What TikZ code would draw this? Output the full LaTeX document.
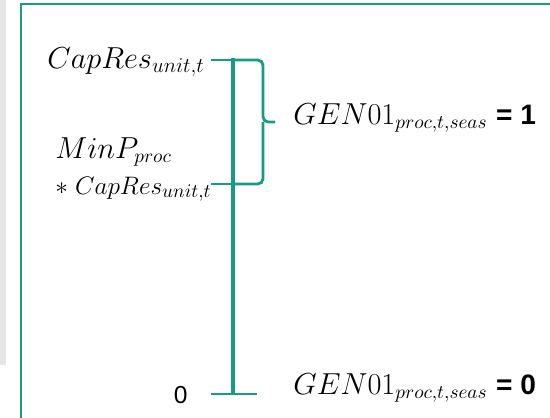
\documentclass[tikz,border=0pt]{standalone}
\usepackage{fontspec}
\setsansfont{Liberation Sans}
\usetikzlibrary{positioning}
\definecolor{teal}{RGB}{22,155,135}
\tikzset{
  lvl/.style={draw=teal,line width=1.6pt},
  lbl/.style={inner sep=0pt,font=\fontsize{17}{20}\selectfont},
}
\begin{document}
\begin{tikzpicture}[x=0.02cm,y=-0.02cm]
	\useasboundingbox (0,0) rectangle (550,417);
	\fill[gray!20] (0,0) rectangle (6,365);
	\draw[teal,line width=1pt] (21,430) -- (21,4) -- (560,4);
	% axis
	\coordinate (top) at (233,60);
	\coordinate (mid) at (233,184);
	\coordinate (bot) at (233,394);
	\draw[teal,line width=2.4pt] (233,58) -- (bot);
	\draw[lvl] (211,60) -- (top);
	\draw[lvl] (211,184) -- (mid);
	\draw[lvl] (211,394) -- (257,394);
	% bracket
	\draw[lvl,rounded corners=3pt] (top) -- (263,60) -- (263,122) -- (275,122);
	\draw[lvl,rounded corners=3pt] (mid) -- (263,184) -- (263,122);
	% labels
	\node[lbl,anchor=base east] (capres) at (205,68) {$CapRes_{unit,t}$};
	\node[lbl,anchor=base west,font=\fontsize{16}{19}\selectfont] (minp) at (55,158) {$MinP_{proc}$};
	\begin{scope}
		\clip (0,170) rectangle (214,205);
		\node[lbl,anchor=base west,font=\fontsize{15}{18}\selectfont] (minp2) at (55,194) {$*\;CapRes_{unit,t}$};
	\end{scope}
	\node[lbl,anchor=base west,font=\fontsize{16}{19}\selectfont] (gen1) at (293,124) {$GEN01_{proc,t,seas}$ {\sffamily\bfseries = 1}};
	\node[lbl,anchor=base west,font=\fontsize{16}{19}\selectfont] (gen0) at (293,394) {$GEN01_{proc,t,seas}$ {\sffamily\bfseries = 0}};
	\node[lbl,anchor=base east,font=\sffamily\fontsize{14}{16}\selectfont] (zero) at (188,403) {0};
\end{tikzpicture}
\end{document}
